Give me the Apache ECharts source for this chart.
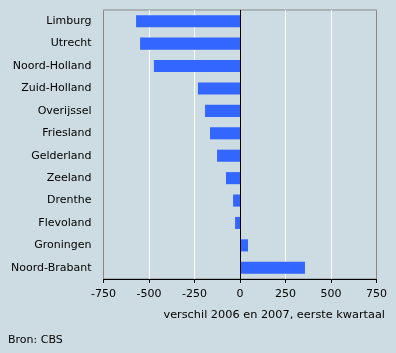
<!DOCTYPE html>
<html><head><meta charset="utf-8">
<script src="https://cdn.jsdelivr.net/npm/echarts@6/dist/echarts.min.js"></script>
<style>html,body{margin:0;padding:0;background:#cddce2}#c{width:396px;height:353px}</style>
</head><body><div id="c"></div>
<script>
const categories = ['Limburg','Utrecht','Noord-Holland','Zuid-Holland','Overijssel','Friesland','Gelderland','Zeeland','Drenthe','Flevoland','Groningen','Noord-Brabant'];
const values = [-571,-549,-473,-231,-192,-165,-126,-77,-38,-27,44,357];
const xTicks = [-750,-500,-250,0,250,500,750];
const axisTitle = 'verschil 2006 en 2007, eerste kwartaal';
const source = 'Bron: CBS';
const font = 'DejaVu Sans, Verdana, sans-serif';

const chart = echarts.init(document.getElementById('c'));
chart.setOption({
  backgroundColor: '#cddce2',
  animation: false,
  grid: {left: 103.5, right: 19.5, top: 10, bottom: 74, show: true, borderColor: '#888888', borderWidth: 1, backgroundColor: 'transparent'},
  xAxis: {
    type: 'value', min: xTicks[0], max: xTicks[xTicks.length-1], interval: 250,
    axisLine: {show: true, lineStyle: {color: '#000', width: 1}},
    axisTick: {show: true, length: 4, lineStyle: {color: '#000'}},
    axisLabel: {color: '#000', fontFamily: font, fontSize: 11, margin: 10},
    splitLine: {show: true, lineStyle: {color: ['#888888','#ffffff','#ffffff','#000000','#ffffff','#ffffff','#888888'], width: 1}}
  },
  yAxis: {
    type: 'category', data: categories, inverse: true,
    axisLine: {show: false}, axisTick: {show: false},
    axisLabel: {color: '#000', fontFamily: font, fontSize: 11, margin: 12}
  },
  series: [{
    type: 'bar', data: values, barCategoryGap: '46%',
    itemStyle: {color: '#3366ff'},
    markLine: {silent: true, symbol: 'none', label: {show: false}, lineStyle: {color: '#000', type: 'solid', width: 1}, data: [{xAxis: 0}]}
  }],
  graphic: [
    {type: 'text', right: 11, top: 310, style: {text: axisTitle, fill: '#000', font: '11.3px ' + font}},
    {type: 'text', left: 8, top: 335, style: {text: source, fill: '#000', font: '11px ' + font}}
  ]
});
</script></body></html>
